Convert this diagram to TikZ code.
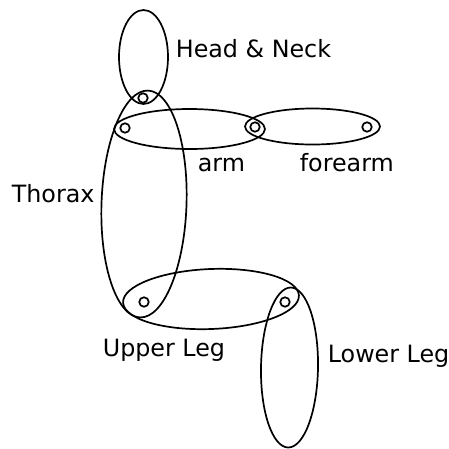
\documentclass[tikz,border=0pt]{standalone}
\usepackage{fontspec}
\setmainfont{DejaVu Sans}
\usetikzlibrary{shapes.geometric}
\begin{document}
\begin{tikzpicture}[x=1pt,y=-1pt, line width=1.7pt,
  seg/.style={draw, ellipse, inner sep=0pt},
  joint/.style={draw, circle, inner sep=0pt, minimum size=9.5pt},
  lbl/.style={anchor=base west, inner sep=0pt, font=\fontsize{23.8}{28}\selectfont}]
\useasboundingbox (0,0) rectangle (449,448);
% body segments
\node[seg, minimum width=49pt, minimum height=94pt] (head) at (143.5,57) {};
\node[seg, minimum width=85pt, minimum height=227pt, rotate=-2] (thorax) at (144,204) {};
\node[seg, minimum width=151pt, minimum height=40pt] (arm) at (189.5,129) {};
\node[seg, minimum width=135pt, minimum height=36pt] (forearm) at (312.5,126.5) {};
\node[seg, minimum width=176pt, minimum height=60pt, rotate=2.3] (upperleg) at (211,299) {};
\node[seg, minimum width=57pt, minimum height=160pt, rotate=-1] (lowerleg) at (289.5,367.5) {};
% joints
\node[joint] (j1) at (143,98) {};
\node[joint] (j2) at (125,128) {};
\node[joint] (j3) at (255,127) {};
\node[joint] (j4) at (367,127) {};
\node[joint] (j5) at (144,302) {};
\node[joint] (j6) at (285,302) {};
% labels
\node[lbl] (lhead) at (175,57) {Head \& Neck};
\node[lbl] (lthorax) at (11,202) {Thorax};
\node[lbl] (larm) at (197,171) {arm};
\node[lbl] (lforearm) at (299,171) {forearm};
\node[lbl] (lupper) at (102,356) {Upper Leg};
\node[lbl] (llower) at (327,362) {Lower Leg};
\end{tikzpicture}
\end{document}
